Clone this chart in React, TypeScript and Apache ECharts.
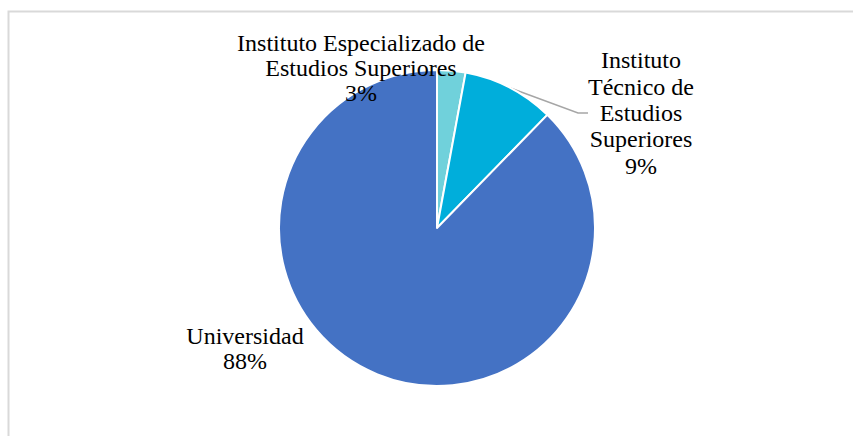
import React, { useEffect, useRef } from "react";
import * as echarts from "echarts";

const categories = [
  "Instituto Especializado de Estudios Superiores",
  "Instituto Técnico de Estudios Superiores",
  "Universidad",
];
const labelTexts = [
  "Instituto Especializado de\nEstudios Superiores",
  "Instituto\nTécnico de\nEstudios\nSuperiores",
  "Universidad",
];
const values = [2.9, 9.4, 87.7];
const colors = ["#70D1DB", "#00AEDB", "#4472C4"];
// label centre offsets relative to the pie centre (px)
const labelOffsets: [number, number][] = [
  [-76, -160],
  [204, -115],
  [-192, 120],
];
const labelLineHeights = [25, 26.3, 25];

const FONT = "Liberation Serif";

export default function App() {
  const ref = useRef<HTMLDivElement>(null);
  useEffect(() => {
    if (!ref.current) return;
    const chart = echarts.init(ref.current, null, { renderer: "svg" });
    const cx = 437;
    const cy = 228;
    const labelBase = {
      show: true,
      fontFamily: FONT,
      fontSize: 24,
      color: "#000000",
      align: "center",
      overflow: "none",
    };
    chart.setOption({
      animation: false,
      backgroundColor: "#ffffff",
      textStyle: { fontFamily: FONT },
      graphic: [
        {
          type: "rect",
          shape: { x: 8.5, y: 11.5, width: 900, height: 500 },
          style: { fill: "none", stroke: "#d9d9d9", lineWidth: 2 },
          silent: true,
        },
      ],
      series: [
        {
          type: "pie",
          center: [cx, cy],
          radius: 158,
          startAngle: 90,
          clockwise: true,
          percentPrecision: 0,
          itemStyle: { borderColor: "#ffffff", borderWidth: 2 },
          label: labelBase,
          labelLine: { show: false },
          labelLayout: (params: any) => {
            const o = labelOffsets[params.dataIndex];
            return {
              x: cx + o[0],
              y: cy + o[1],
              align: "center",
              verticalAlign: "middle",
            };
          },
          data: categories.map((name, i) => ({
            name,
            value: values[i],
            itemStyle: { color: colors[i] },
            label: {
              ...labelBase,
              lineHeight: labelLineHeights[i],
              formatter: (p: any) => labelTexts[i] + "\n" + p.percent + "%",
            },
            labelLine:
              i === 1
                ? { show: true, length: 10, length2: 10, lineStyle: { color: "#a6a6a6", width: 1.5 } }
                : { show: false },
          })),
        },
      ],
    });
    return () => chart.dispose();
  }, []);
  return (
    <div
      ref={ref}
      style={{ position: "fixed", left: 0, top: 0, width: 853, height: 436 }}
    />
  );
}
